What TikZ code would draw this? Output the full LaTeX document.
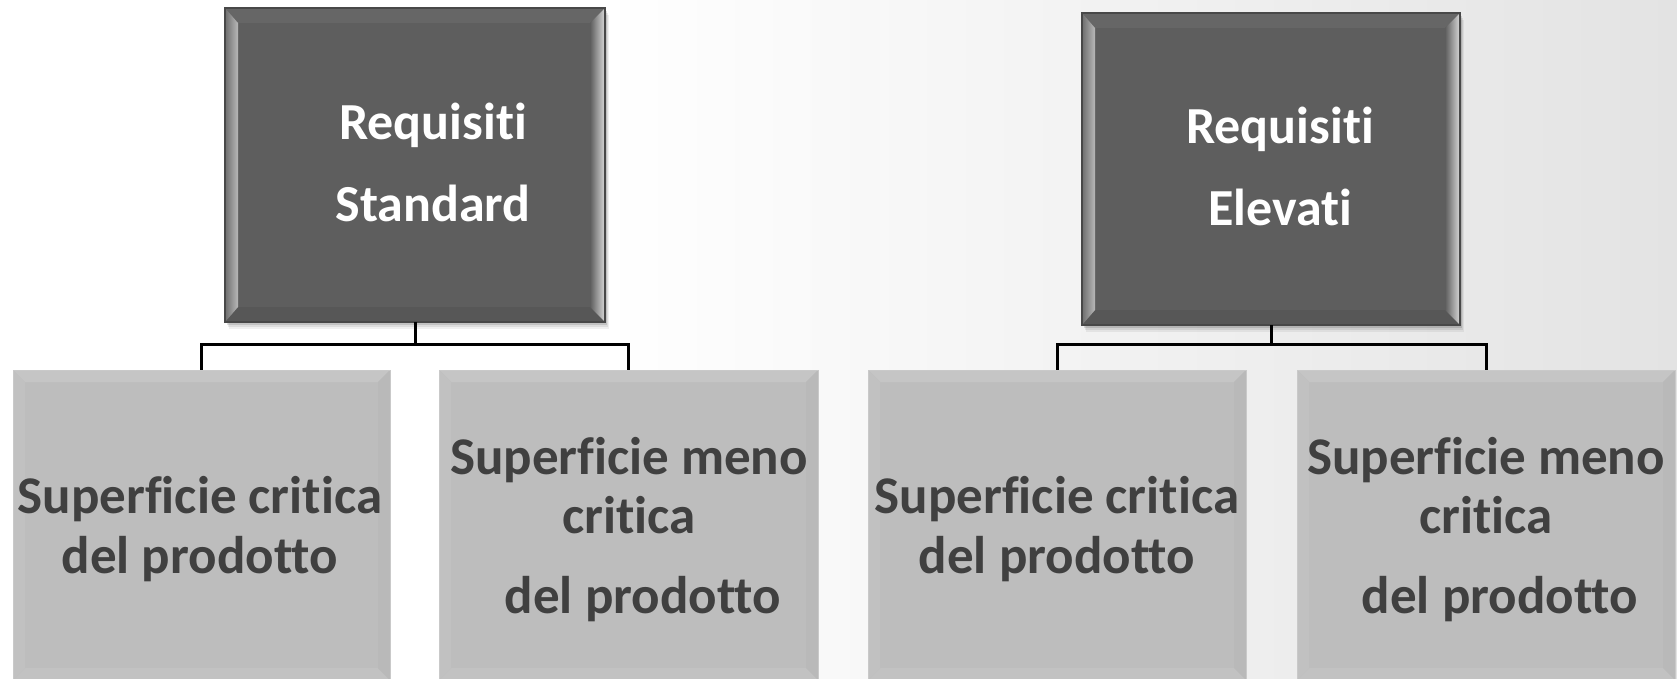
\documentclass[tikz,border=0pt]{standalone}
\usepackage{fontspec}
\setmainfont{Carlito}[Ligatures={NoCommon}]
\usetikzlibrary{calc}
\definecolor{bgR}{HTML}{E3E3E3}
\definecolor{topfill}{HTML}{5E5E5E}
\definecolor{topborder}{HTML}{484848}
\definecolor{topT}{HTML}{666666}
\definecolor{topB}{HTML}{575757}
\definecolor{topLa}{HTML}{6E6E6E}
\definecolor{topLb}{HTML}{B8B8B8}
\definecolor{topRa}{HTML}{5E5E5E}
\definecolor{topRb}{HTML}{D8D8D8}
\definecolor{botfill}{HTML}{BDBDBD}
\definecolor{botborder}{HTML}{C9C9C9}
\definecolor{botT}{HTML}{C5C5C5}
\definecolor{botB}{HTML}{C2C2C2}
\definecolor{botL}{HTML}{C1C1C1}
\definecolor{botR}{HTML}{B9B9B9}
\definecolor{bottext}{HTML}{404040}
\newcommand\topbevel[1]{%
  \foreach \k/\o in {7/0.06,5/0.08,3/0.12}{
    \fill[black, opacity=\o] ($(#1.north west)+(\k*0.5,\k)$) rectangle ($(#1.south east)+(\k*0.5,\k)$);
  }
  \fill[topfill] (#1.north west) rectangle (#1.south east);
  \fill[topT] (#1.north west) -- (#1.north east) -- ($(#1.north east)+(-15,15)$) -- ($(#1.north west)+(13,15)$) -- cycle;
  \fill[topB] (#1.south west) -- (#1.south east) -- ($(#1.south east)+(-15,-15)$) -- ($(#1.south west)+(13,-15)$) -- cycle;
  \shade[left color=topLa, right color=topLb] (#1.north west) -- ($(#1.north west)+(13,15)$) -- ($(#1.south west)+(13,-15)$) -- (#1.south west) -- cycle;
  \shade[left color=topRa, right color=topRb] (#1.north east) -- ($(#1.north east)+(-15,15)$) -- ($(#1.south east)+(-15,-15)$) -- (#1.south east) -- cycle;
  \draw[topborder, line width=1.5] (#1.north west) rectangle (#1.south east);
}
\newcommand\botbevel[1]{%
  \fill[botfill] (#1.north west) rectangle (#1.south east);
  \fill[botT] (#1.north west) -- (#1.north east) -- ($(#1.north east)+(-12,12)$) -- ($(#1.north west)+(12,12)$) -- cycle;
  \fill[botB] (#1.south west) -- (#1.south east) -- ($(#1.south east)+(-12,-12)$) -- ($(#1.south west)+(12,-12)$) -- cycle;
  \fill[botL] (#1.north west) -- ($(#1.north west)+(12,12)$) -- ($(#1.south west)+(12,-12)$) -- (#1.south west) -- cycle;
  \fill[botR] (#1.north east) -- ($(#1.north east)+(-12,12)$) -- ($(#1.south east)+(-12,-12)$) -- (#1.south east) -- cycle;
  \draw[botborder, line width=1] (#1.north west) rectangle (#1.south east);
}
\begin{document}
\begin{tikzpicture}[x=1pt,y=-1pt,
  shape box/.style={rectangle, inner sep=0pt, outer sep=0pt},
  toptext/.style={text=white, font=\bfseries\fontsize{52}{82}\selectfont, align=center, inner sep=0pt},
  bottxt/.style={text=bottext, font=\bfseries\fontsize{53}{60}\selectfont, align=center, inner sep=0pt},
  conn/.style={draw=black, line width=3pt}]
\useasboundingbox (0,0) rectangle (1677,679);
\clip (0,0) rectangle (1677,679);
\fill[white] (0,0) rectangle (1677,679);
\shade[left color=white, right color=bgR] (600,0) rectangle (1677,679);

% box placeholders
\path node[shape box, minimum width=380pt, minimum height=314pt] (p1) at (415,165) {};
\path node[shape box, minimum width=378pt, minimum height=312pt] (p2) at (1271,169) {};
\path node[shape box, minimum width=377pt, minimum height=310pt] (c1) at (201.5,525) {};
\path node[shape box, minimum width=379pt, minimum height=310pt] (c2) at (628.5,525) {};
\path node[shape box, minimum width=378pt, minimum height=310pt] (c3) at (1057,525) {};
\path node[shape box, minimum width=378pt, minimum height=310pt] (c4) at (1486,525) {};

\topbevel{p1}
\topbevel{p2}
\botbevel{c1}
\botbevel{c2}
\botbevel{c3}
\botbevel{c4}

% connectors
\coordinate (j1) at ($(p1.south)+(0,22)$);
\coordinate (j2) at ($(p2.south)+(0,19)$);
\draw[conn] (p1.south) -- (j1);
\draw[conn] (j1) -| (c1.north);
\draw[conn] (j1) -| (c2.north);
\draw[conn] (p2.south) -- (j2);
\draw[conn] (j2) -| (c3.north);
\draw[conn] (j2) -| (c4.north);

% texts
\node[toptext] (p1t) at (433,162) {Requisiti\\Standard};
\node[toptext] (p2t) at (1280,166) {Requisiti\\Elevati};
\node[bottxt] (c1t) at (200,529) {Superficie critica\\del prodotto};
\node[bottxt, font=\bfseries\fontsize{53}{59}\selectfont] (c2t) at (629,530) {Superficie meno\\critica\\[21pt]\hspace*{28pt}del prodotto};
\node[bottxt] (c3t) at (1057,529) {Superficie critica\\del prodotto};
\node[bottxt, font=\bfseries\fontsize{53}{59}\selectfont] (c4t) at (1486,530) {Superficie meno\\critica\\[21pt]\hspace*{28pt}del prodotto};
\end{tikzpicture}
\end{document}
